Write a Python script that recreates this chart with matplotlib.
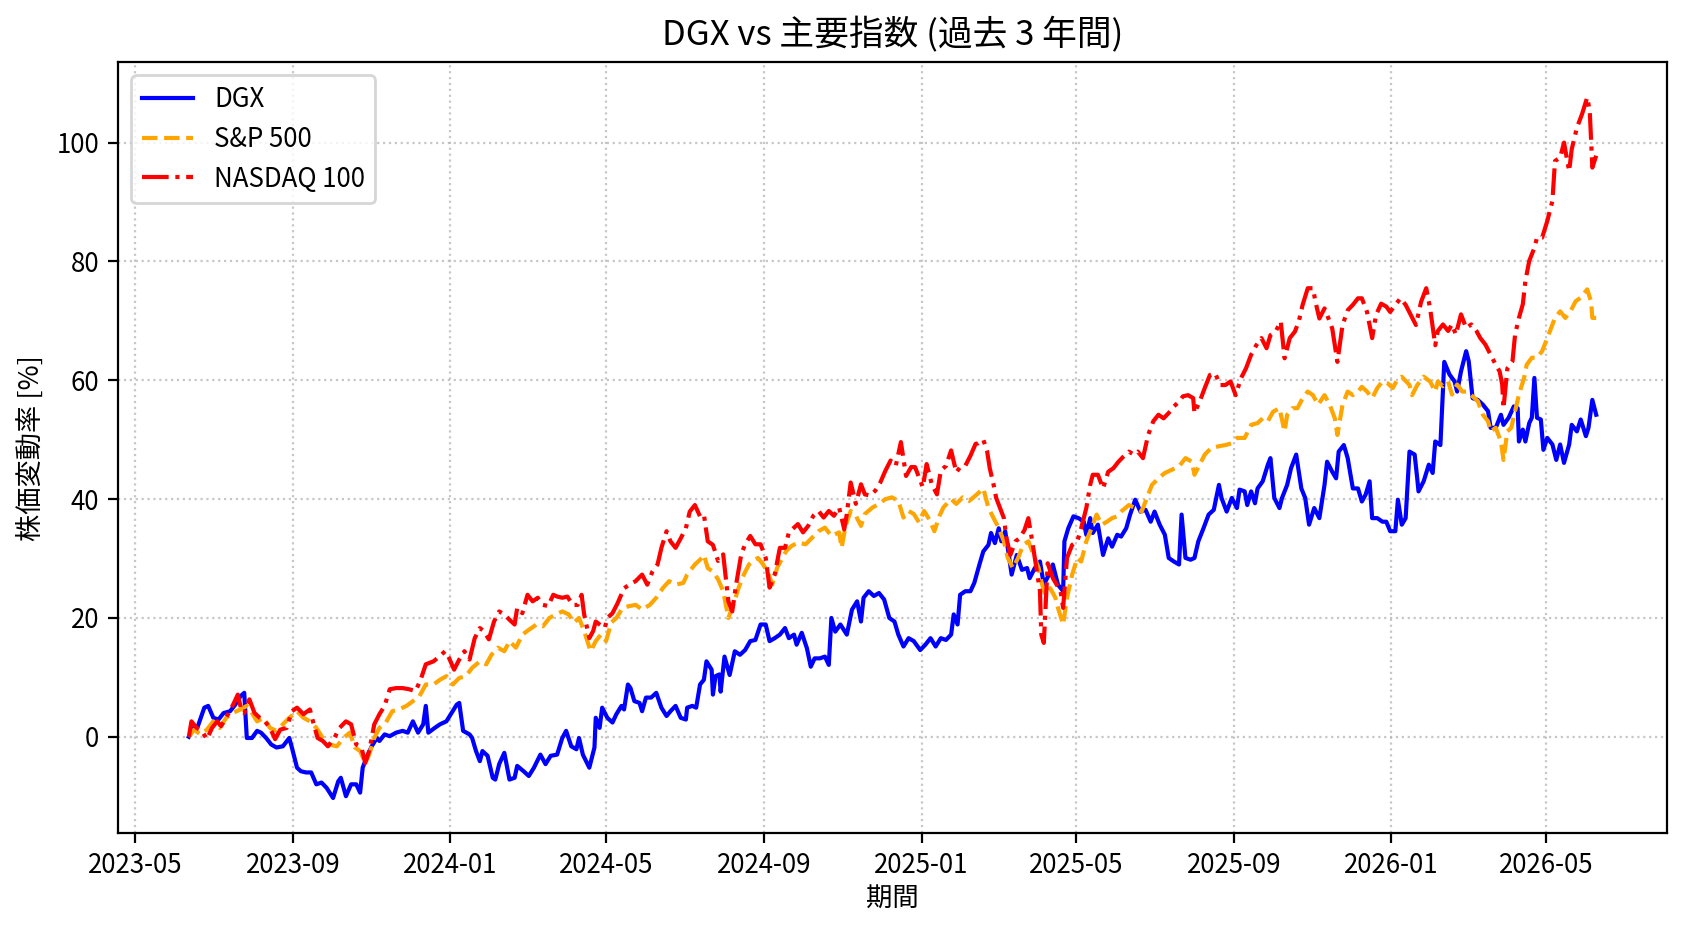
import numpy as np
import pandas as pd
import matplotlib
matplotlib.use("Agg")
import matplotlib.pyplot as plt
import matplotlib.dates as mdates

plt.rcParams['font.family'] = ['Noto Sans CJK JP', 'DejaVu Sans']

start_date = "2023-06-12"

# ---- DGX (days since start, % change) ----
dgx_days = [0,4,7,12,15,19,23,27,32,36,40,43,45,49,53,56,60,64,68,73,78,80,84,87,91,95,99,103,107,112,
            116,118,122,126,130,133,135,138,142,146,148,152,156,161,166,170,174,178,182,184,186,191,195,200,204,208,210,
            213,218,220,223,226,228,232,236,238,241,245,249,253,255,260,264,268,273,277,281,286,290,293,297,301,303,306,311,315,316,
            319,321,325,329,332,336,338,341,343,346,350,352,355,359,363,367,371,374,378,382,386,387,391,394,397,400,402,406,407,409,412,
            413,416,420,424,428,432,436,440,444,448,451,455,459,463,466,470,472,476,480,483,486,490,494,497,499,502,506,511,515,519,
            522,524,528,532,536,540,544,548,551,555,559,563,568,572,576,580,584,588,592,594,597,599,603,607,610,614,
            617,621,623,626,629,631,634,636,639,643,647,651,653,657,661,664,668,671,675,679,680,683,687,691,695,697,700,702,706,710,
            714,717,721,724,728,731,735,739,743,747,750,754,758,761,765,769,771,774,778,781,784,788,792,796,800,802,806,810,814,
            816,820,822,825,828,830,834,838,840,843,847,849,853,856,860,864,867,870,874,878,882,884,888,891,893,897,900,904,908,911,
            914,917,919,923,927,930,933,937,939,942,945,948,952,954,955,959,963,966,968,972,975,
            979,983,985,988,992,994,997,1001,1005,1009,1011,1015,1019,1021,1025,1029,1032,1033,1036,1038,
            1041,1043,1045,1047,1050,1052,1055,1059,1062,1065,1068,1072,1074,1078,1081,1085,1087,1090,1093]
dgx_vals = [0,1.5,1.8,4.9,5.2,3.2,2.9,4,4.3,5.4,6.8,7.4,-0.2,-0.2,1,0.7,-0.2,-1.3,-1.8,-1.6,-0.2,-1.8,-5.2,-5.8,-6,-6,-8,-7.7,-8.6,-10.3,
            -7.5,-6.9,-10,-8,-8,-9.4,-5.2,-3.5,-1.6,-0.2,-0.7,0.4,0.1,0.7,1,0.7,2.6,0.7,2.1,5.2,0.7,1.5,2.1,2.6,4,5.4,5.7,
            1,0.4,-0.2,-2.4,-4.1,-2.4,-3.2,-6.9,-7.2,-4.6,-2.7,-7.2,-6.9,-4.9,-5.8,-6.6,-5.2,-3,-4.6,-3.2,-3,-0.2,1,-1.6,-2.1,-0.2,-3,-5.2,-1.8,3.2,
            1.5,4.9,3.2,2.4,3.8,5.2,4.6,8.8,8.2,6,5.7,4.3,6.6,6.6,7.4,4.9,3.5,4.3,5.2,3.2,2.9,4.9,5.2,4.9,8.8,9.6,12.7,11.3,7.1,10.2,10.5,
            7.6,13.5,10.4,14.4,13.8,14.6,16.1,16.3,18.9,18.9,16.1,16.6,17.2,18.3,16.6,17.2,15.5,17.5,14.9,11.8,13.2,13.2,13.5,12.1,20,17.7,18.9,17.2,21.4,22.8,
            19.4,23.4,24.5,23.7,24.2,23.1,20,19.4,17.2,15.2,16.6,16.1,14.6,15.5,16.6,15.2,16.6,16.3,17.2,20.6,18.9,23.9,24.5,24.5,25.9,29,
            31.2,32.3,34.3,32.6,35.1,32.9,34.6,31.8,27.3,30.6,28.1,28.4,26.7,28.4,29.5,25.6,27.3,29,25.6,24.5,32.9,35.1,37.1,36.8,36.2,34,36.8,34.3,35.7,30.6,
            33.4,32,34,33.7,35.1,37.4,39.9,37.9,38.2,36.2,37.9,35.7,34,30.1,29.5,29,37.4,30.1,29.8,30.1,32.9,35.1,37.4,38.2,42.4,40.2,37.9,40.2,38.5,
            41.6,41.3,39,41.3,39.3,41.8,43,45.8,46.9,40.2,38.5,40.2,42.4,45.2,47.5,41.8,40.2,35.7,38.5,36.8,42.4,46.3,44.6,43.5,48,49.1,46.9,41.8,41.8,39.6,
            40.8,43,36.8,36.8,36.2,36.2,34.6,34.6,39.9,35.7,36.8,48,47.5,43.5,41.3,43,45.8,44.4,49.7,49.1,63.1,
            61,59.8,58.1,61.5,64.9,63.2,57,56.7,55.9,54.8,52,52,54.2,52.5,53.7,55.6,55.3,49.7,51.7,49.7,
            52.8,53.7,60.4,53.7,53.4,48.3,50.3,49.2,46.6,49.2,46.1,49.2,52.5,51.4,53.4,50.6,52,56.7,54.2]

# ---- S&P 500 ----
sp_days = [0,4,9,14,19,24,29,34,40,45,49,53,58,63,68,73,78,84,89,94,99,104,109,115,120,125,129,133,137,140,
           144,148,153,158,163,169,174,179,184,190,195,200,205,210,
           215,220,226,231,235,240,245,249,254,259,264,270,275,280,285,290,295,299,303,307,
           312,316,320,324,328,332,337,342,347,352,358,363,368,373,378,384,387,393,397,400,403,407,
           411,415,419,423,427,431,435,438,442,446,450,453,457,461,464,468,473,479,484,489,
           494,499,505,507,510,514,518,522,525,531,536,541,546,551,555,559,563,567,571,575,579,583,586,592,596,601,606,611,
           617,621,625,629,633,636,640,644,648,652,656,660,662,665,669,673,675,679,682,686,
           690,693,697,701,705,709,713,717,721,724,730,735,740,744,748,753,758,763,769,774,779,781,785,789,794,800,805,810,814,
           820,825,830,834,838,842,847,851,853,857,861,865,869,873,877,882,886,890,892,896,
           900,904,908,911,915,919,923,927,931,935,939,942,948,950,954,959,964,968,
           970,974,978,981,985,989,993,997,1001,1005,1009,1011,1015,1019,1021,1024,1027,1030,1033,1037,
           1039,1043,1047,1051,1055,1059,1061,1065,1069,1073,1077,1081,1086,1089,1090,1093]
sp_vals = [0,1.2,0.4,1.2,2.6,1.5,3.2,4,4.6,5.2,4,2.6,3.2,1.5,1,2.1,3.2,4.3,3.2,2.6,1.5,-0.2,-1.3,-1.6,-0.2,0.7,-1.8,-2.4,-4.4,-3,
           -0.2,1.5,2.4,4.3,4.6,5.2,6,6.8,8.8,8.8,9.6,10.2,8.8,9.9,
           10.2,11.6,12.7,12.2,13.8,15,14.4,16.1,15,17.2,18,18.9,18.6,20,20.6,21.1,20.6,19.2,20,17.8,
           14.4,16.1,17.2,16.1,19.2,20,21.7,22,22.2,21.4,22.2,23.4,25,26.2,25.6,25.9,27.3,29,29.8,30.6,28.4,27.8,
           26.5,24.5,20,22.3,25.1,27.3,29,29.6,30.1,29,27.6,25.6,28.5,30.1,31.3,32.1,32.7,32.4,33.5,34.6,
           35.2,33.8,34.4,31.8,35.5,38,37.2,35.5,37.5,38.6,39.2,40,40.3,39.7,36.9,38,37.5,36.1,38,36.6,34.6,37.2,38.6,40,39.2,40.3,39.7,40.6,
           41.8,38.5,36.8,35.1,32.9,30.1,28.4,30.1,32.3,32.9,30.6,28.4,26.2,23.9,25,23.4,21.7,18.9,23.4,27.3,
           30.1,29.5,32.9,35.1,37.4,35.7,36.2,36.8,37.1,37.9,39,38.5,37.9,40.2,42.4,43.5,44.4,44.9,45.5,46.9,46.3,44.1,45.8,47.5,48.6,48.9,49.1,49.4,50.3,
           50.3,52.5,52.8,53.6,53.1,54.7,55.3,51.4,54.2,55.3,55.3,57,58.1,57.5,55.9,57.5,55.9,53.6,50.8,55.9,
           58.1,57.5,58.1,58.9,58.1,57,58.7,59.8,59.5,58.7,60.3,60.6,59.2,57.5,59.2,60.6,59.8,58.1,
           59.8,59,59.8,57.6,59.3,58.1,58.1,57.3,56.5,54.2,53.1,51.4,52,49.7,46.6,51.4,52,54.8,57.6,60.4,
           62.6,63.8,63.8,64.9,67.1,69.4,70.5,71.6,70.5,71.6,73.3,73.9,75.3,73.3,70.5,70.5]

# ---- NASDAQ 100 ----
nq_days = [0,2,6,10,14,18,22,25,31,35,38,41,43,47,51,55,59,63,67,71,76,80,84,89,94,96,100,104,108,113,
           117,122,126,130,134,137,140,144,148,152,156,161,166,171,176,180,184,190,195,199,202,206,210,
           214,218,222,226,229,233,237,241,245,249,253,255,259,263,267,271,275,279,283,286,
           290,294,298,302,305,307,311,314,316,319,323,325,329,333,338,342,347,352,356,360,
           364,367,371,374,378,382,386,389,393,397,400,403,407,
           411,415,419,422,425,429,432,436,440,444,448,451,455,459,463,466,470,473,477,481,
           485,489,493,497,501,505,509,511,514,518,522,525,529,533,537,541,545,549,553,557,
           561,564,570,573,577,581,584,588,592,596,599,603,607,611,
           613,617,620,622,625,627,630,633,635,638,642,645,649,652,655,657,661,662,664,667,
           671,674,677,679,682,686,690,693,697,700,702,706,710,714,718,722,726,730,734,737,
           741,745,749,753,757,761,765,769,772,776,780,781,785,789,793,797,801,805,809,813,
           817,821,825,829,833,837,840,844,848,851,855,859,862,865,869,873,875,878,882,886,
           888,892,896,900,904,908,911,915,919,922,926,930,933,937,941,945,949,953,957,961,964,968,
           970,974,978,981,984,988,992,996,1000,1003,1007,1011,1015,1018,1020,1021,1024,1028,1030,1033,
           1036,1038,1041,1045,1047,1051,1055,1059,1061,1065,1068,1072,1074,1078,1082,1086,1088,1090,1093]
nq_vals = [0,2.6,1.5,1,-0.4,1.5,2.6,1.8,4,5.7,7.1,4.3,4,6.3,4,3.2,2.6,1.5,-0.4,1.2,1.5,4.3,4.9,3.8,4.6,2.9,-0.2,-0.7,-1.6,-0.2,
           1.5,2.6,2.1,-1.3,-1.8,-4.4,-2.4,2.1,3.8,5.2,8,8.2,8.2,8,7.7,9.6,12.2,12.7,13.6,14.4,13.3,11.3,13,
           14.4,13,16.6,18.3,17.8,16.4,19.4,21.1,20.6,19.7,18.9,21.7,20.8,23.9,22.8,23.4,22.2,22,23.9,23.6,
           23.4,23.6,22.2,22.2,23.9,20.6,16.6,17.8,19.4,18.9,18.3,20,20.8,22.5,25,25.6,26.2,27.3,25.6,27.8,
           29,31.8,34.6,32.9,31.8,33.4,35.1,37.9,39,37.1,37.4,32.9,32.3,
           29.6,30.7,22.8,21.1,25.6,30.7,32.4,33.8,32.4,32.4,30.1,25.1,27.3,31.8,31.8,34.4,35.2,35.8,34.4,35.5,
           37.2,38,36.9,38,37.2,38.6,34.9,37.5,42.8,39.2,42.5,40.8,40.6,41.4,42.8,44.8,46.5,45.6,49.6,43.9,
           45.4,45.4,42,45.9,42.5,40.8,44.8,45.6,48.2,44.5,45.4,45.6,47.3,49.3,
           49.4,50,48,45.2,42.4,40.2,38.5,36.8,33.4,30.6,32.9,33.4,34.8,36.8,32.9,30.1,24.5,17.2,15.8,29.2,
           26.7,25.6,24.5,21.7,30.1,32.3,32.9,35.1,38.5,42.4,44.1,44.1,41.8,44.6,45.2,46.3,47.2,48,47.5,48,
           46.9,50.8,53.1,54.2,53.6,54.5,55.6,56.4,57.3,57.5,57,54.5,56.4,58.7,60.9,61.2,59.2,59.2,59.8,57.5,
           60.3,62,64.3,65.9,67.1,65.4,67.6,68.2,69.9,63.7,67.1,68.2,69.9,72.7,75.5,75.5,73.2,70.4,72.1,69.9,
           68.7,63.1,69.3,71.8,72.7,73.8,73.8,71.5,67.1,71,72.9,72.4,71.5,72.7,73.8,72.7,71,69.3,73.2,75.5,72.1,65.9,
           68.3,69.4,68.3,69.4,67.7,71.1,68.8,69.4,68.3,67.1,66,64.3,62.6,61.5,59.3,55.3,62,63.2,67.7,70.5,
           72.8,76.7,80.1,82.3,84,84,86.8,90.2,96.9,97.5,100,95.2,98.9,102.5,104.8,107.6,105.3,95.8,97.8]

series_labels = ["DGX", "S&P 500", "NASDAQ 100"]
title_text = "DGX vs 主要指数 (過去 3 年間)"
xlabel_text = "期間"
ylabel_text = "株価変動率 [%]"

assert len(dgx_days) == len(dgx_vals)
assert len(sp_days) == len(sp_vals)
assert len(nq_days) == len(nq_vals)

t0 = pd.Timestamp(start_date)
def to_dates(days):
    return t0 + pd.to_timedelta(np.array(days), unit="D")

DPI = 200
fig = plt.figure(figsize=(1688 / DPI, 932 / DPI), dpi=DPI)
ax = fig.add_axes([0.0702, 0.1062, 0.9873 - 0.0702, 0.933 - 0.1062])

lw = 1.5
ax.plot(to_dates(dgx_days), dgx_vals, color="blue", linestyle="-", linewidth=lw, label=series_labels[0])
ax.plot(to_dates(sp_days), sp_vals, color="orange", linestyle="--", linewidth=lw, label=series_labels[1])
ax.plot(to_dates(nq_days), nq_vals, color="red", linestyle="-.", linewidth=lw, label=series_labels[2])

ax.xaxis.set_major_locator(mdates.MonthLocator(bymonth=[1, 5, 9]))
ax.xaxis.set_major_formatter(mdates.DateFormatter("%Y-%m"))

ax.set_title(title_text, fontsize=12.5)
ax.set_xlabel(xlabel_text, fontsize=9.5, labelpad=2)
ax.set_ylabel(ylabel_text, fontsize=9.8)
ax.tick_params(labelsize=9.3)
ax.grid(True, linestyle=":", alpha=0.7)
ax.legend(loc="upper left", fontsize=9.3)

fig.savefig("out.png", dpi=DPI)
